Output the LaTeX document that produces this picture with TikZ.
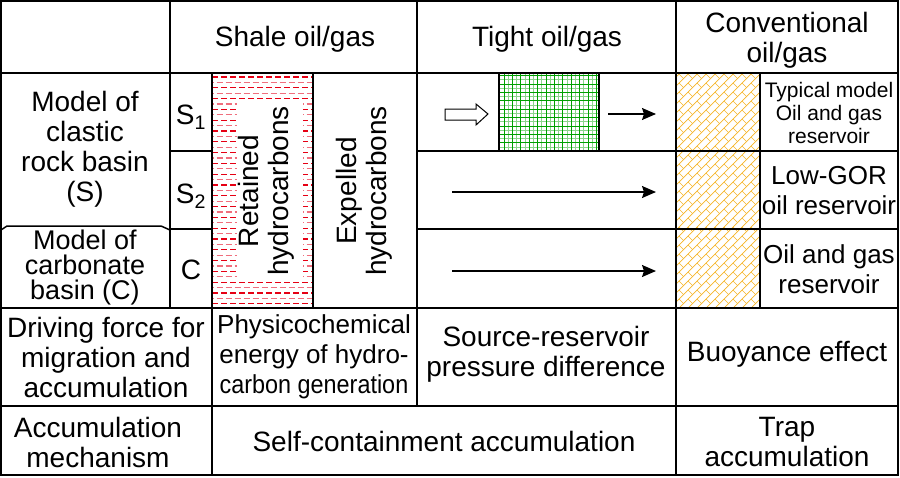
\documentclass[tikz,border=0pt]{standalone}
\usepackage{fontspec}
\setmainfont{Liberation Sans}
\usetikzlibrary{arrows.meta}

\definecolor{shalered}{RGB}{230,0,20}
\definecolor{shalepink}{RGB}{240,110,125}
\definecolor{tightgreen}{RGB}{0,160,0}
\definecolor{convorange}{RGB}{245,180,40}

\begin{document}
\begin{tikzpicture}[x=1pt, y=-1pt, every node/.style={align=center, inner sep=0pt, font=\fontsize{28}{30}\selectfont}]
            \useasboundingbox (0,0) rectangle (900,477);

            % shale column: dashes round a white box
            \begin{scope}
                \clip (212,73) rectangle (313,308);
                \foreach \yy in {77,87.8,...,308}
                    \draw[shalered, line width=1.2pt, dash pattern=on 6pt off 3pt] (212,\yy) -- (313,\yy);
                \foreach \yy in {82.4,93.2,...,308}
                    \draw[shalepink, line width=1.2pt, dash pattern=on 6pt off 3pt, dash phase=4.5pt] (212,\yy) -- (313,\yy);
                \fill[white] (237,100) rectangle (303,282);
            \end{scope}

            % tight reservoir grid
            \draw[tightgreen!45, line width=0.7pt, step=4.2pt] (499,151) grid (599,73);
            \draw[tightgreen, line width=0.7pt, step=8.4pt] (499,151) grid (599,73);

            % conventional column bricks
            \begin{scope}
                \clip (676,73) rectangle (760,308);
                \foreach \k in {0,...,36} {
                    \draw[convorange, line width=0.7pt] (436+9*\k,308) -- ++(240,-240);
                    \draw[convorange, line width=0.7pt] \foreach \t in {0,9,...,240} {(436+9*\k+\t,308-\t) -- ++(4.5,4.5)};
                }
            \end{scope}

            % table lines
            \draw[line width=2pt] (1,1) rectangle (898,475);
            \draw[line width=1.5pt] (1,73) -- (898,73);
            \draw[line width=1.5pt] (1,308) -- (898,308);
            \draw[line width=1.5pt] (1,406) -- (898,406);
            \draw[line width=1.5pt] (170,1) -- (170,308);
            \draw[line width=1.5pt] (417,1) -- (417,406);
            \draw[line width=1.5pt] (676,1) -- (676,475);
            \draw[line width=1.5pt] (212,73) -- (212,475);
            \draw[line width=1.5pt] (313,73) -- (313,308);
            \draw[line width=1.5pt] (760,73) -- (760,308);
            \draw[line width=1.5pt] (499,73) -- (499,151);
            \draw[line width=1.5pt] (599,73) -- (599,151);
            \draw[line width=1.5pt] (170,151) -- (212,151);
            \draw[line width=1.5pt] (170,229) -- (212,229);
            \draw[line width=1.5pt] (417,151) -- (898,151);
            \draw[line width=1.5pt] (417,229) -- (898,229);
            \draw[line width=1.5pt] (1,230) -- (7,226) -- (161,226) -- (170,230);

            % header
            \node (shale) at (295,39) {Shale oil/gas};
            \node (tight) at (547,39) {Tight oil/gas};
            \node (conv) at (787,40) {Conventional\\oil/gas};

            % basin models
            \node (clastic) at (85,149) {Model of\\clastic\\rock basin\\(S)};
            \node[font=\fontsize{27}{25}\selectfont] (carbonate) at (85,268) {Model of\\carbonate\\basin (C)};
            \node (sone) at (191,117) {S\textsubscript{1}};
            \node (stwo) at (191,196) {S\textsubscript{2}};
            \node (cthree) at (191,270) {C};
            \node[rotate=90] (retained) at (266,191) {Retained\\hydrocarbons};
            \node[rotate=90] (expelled) at (364,191) {Expelled\\hydrocarbons};

            % reservoirs
            \node[font=\fontsize{21}{23}\selectfont] (typical) at (829,113) {Typical model\\Oil and gas\\reservoir};
            \node[font=\fontsize{26}{30}\selectfont] (lowgor) at (829,191) {Low-GOR\\oil reservoir};
            \node[font=\fontsize{26}{30}\selectfont] (oilgas) at (829,269) {Oil and gas\\reservoir};

            % flow arrows
            \draw[fill=white, line width=1pt] (445,109) -- (476,109) -- (476,104) -- (488,114) -- (476,125) -- (476,120) -- (445,120) -- cycle;
            \coordinate (oneout) at (608,114);
            \coordinate (oneend) at (656,114);
            \coordinate (twoout) at (452,192);
            \coordinate (twoend) at (656,192);
            \coordinate (cout) at (452,271);
            \coordinate (cend) at (656,271);
            \draw[->, >={Stealth[length=14pt, width=12pt, inset=2pt]}, line width=1.5pt] (oneout) -- (oneend);
            \draw[->, >={Stealth[length=14pt, width=12pt, inset=2pt]}, line width=1.5pt] (twoout) -- (twoend);
            \draw[->, >={Stealth[length=14pt, width=12pt, inset=2pt]}, line width=1.5pt] (cout) -- (cend);

            % driving force row
            \node (driving) at (106,357) {Driving force for\\migration and\\accumulation};
            \node[font=\fontsize{26}{30}\selectfont] (physico) at (314,357) {Physicochemical\\energy of hydro-\\\scalebox{0.9}[1]{carbon generation}};
            \node (pressure) at (546,354) {Source-reservoir\\pressure difference};
            \node (buoyance) at (787,354) {Buoyance effect};

            % mechanism row
            \node (mechanism) at (98,442) {Accumulation\\mechanism};
            \node (selfcont) at (444,441) {Self-containment accumulation};
            \node (trap) at (787,442) {Trap\\accumulation};
        \end{tikzpicture}
\end{document}
